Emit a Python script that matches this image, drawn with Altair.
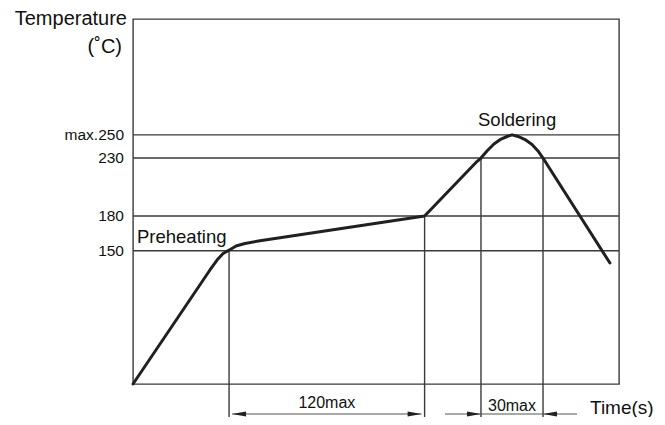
import altair as alt
import pandas as pd

# ---- data ----
curve_time = [0, 47.5, 51.9, 55.6, 59.3, 63.6, 69.1, 78.4, 180, 212.3, 214.8, 218.5,
              222.8, 227.2, 230.9, 234, 237.7, 242, 246.3, 250, 253.1, 256.2, 294.4]
curve_temp = [35, 133.4, 142, 147.6, 150.5, 154.1, 156.2, 158.7, 180, 227, 230, 236.1,
              242.1, 246.4, 248.6, 250, 248.6, 246, 241.7, 236.1, 230, 223.1, 139.4]
guide_temp = [150, 180, 230, 250]
guide_label = ["150", "180", "230", "max.250"]
marker_time = [59.3, 180, 214.8, 253.1]
marker_temp = [150, 180, 230, 230]
span_start = [59.3, 214.8]
span_end = [180, 253.1]
span_label = ["120max", "30max"]
zone_label = ["Preheating", "Soldering"]
zone_time = [0, 234]
zone_temp = [150, 250]
y_title = ["Temperature", "(˚C)"]
x_title = "Time(s)"

W, H = 486, 365
FONT = "Liberation Sans"
INK = "#231f20"
GRID = "#3a3a3a"

xs = alt.Scale(domain=[0, 300], nice=False, zero=False)
ys = alt.Scale(domain=[35, 350], nice=False, zero=False)

curve_df = pd.DataFrame({"t": curve_time, "T": curve_temp, "o": list(range(len(curve_time)))})
guide_df = pd.DataFrame({"T": guide_temp, "lab": guide_label})
marker_df = pd.DataFrame({"t": marker_time, "T": marker_temp})
span_df = pd.DataFrame({"t": span_start, "t2": span_end, "lab": span_label,
                        "mid": [(a + b) / 2 for a, b in zip(span_start, span_end)]})
outer_df = span_df.iloc[[0]]
inner_df = span_df.iloc[[1]]
zone_df = pd.DataFrame({"t": zone_time, "T": zone_temp, "lab": zone_label})

ARROW_Y = 395
LEFT_HEAD = "M0,0L2,-0.36L2,0.36Z"
RIGHT_HEAD = "M0,0L-2,-0.36L-2,0.36Z"

guides = alt.Chart(guide_df).mark_rule(color=GRID, strokeWidth=1.4).encode(
    y=alt.Y("T:Q", scale=ys, axis=None))

guide_text = alt.Chart(guide_df).mark_text(
    align="right", baseline="middle", font=FONT, fontSize=15.5, color="#111").encode(
    x=alt.value(-9), y=alt.Y("T:Q", scale=ys), text="lab:N")

markers = alt.Chart(marker_df).mark_rule(color=GRID, strokeWidth=1.4).encode(
    x=alt.X("t:Q", scale=xs, axis=None), y=alt.Y("T:Q", scale=ys), y2=alt.value(400))

curve = alt.Chart(curve_df).mark_line(color=INK, strokeWidth=3, strokeJoin="round",
                                      strokeCap="round").encode(
    x=alt.X("t:Q", scale=xs), y=alt.Y("T:Q", scale=ys), order="o:Q")

outer_line = alt.Chart(outer_df).mark_rule(color="#555", strokeWidth=1.2, xOffset=3, x2Offset=-3).encode(
    x=alt.X("t:Q", scale=xs), x2="t2:Q", y=alt.value(ARROW_Y))
inner_line = alt.Chart(inner_df).mark_rule(color="#555", strokeWidth=1.2, xOffset=-36, x2Offset=34).encode(
    x=alt.X("t:Q", scale=xs), x2="t2:Q", y=alt.value(ARROW_Y))


def head(df, field, path, off):
    return alt.Chart(df).mark_point(shape=path, size=196, filled=True, color=INK,
                                    opacity=1, strokeWidth=0, xOffset=off).encode(
        x=alt.X(field + ":Q", scale=xs), y=alt.value(ARROW_Y))


heads = [
    head(outer_df, "t", LEFT_HEAD, 3),
    head(outer_df, "t2", RIGHT_HEAD, -3),
    head(inner_df, "t", RIGHT_HEAD, 0),
    head(inner_df, "t2", LEFT_HEAD, 0),
]

outer_text = alt.Chart(outer_df).mark_text(font=FONT, fontSize=16, color="#111",
                                           align="center", baseline="alphabetic").encode(
    x=alt.X("mid:Q", scale=xs), y=alt.value(389), text="lab:N")
inner_text = alt.Chart(inner_df).mark_text(font=FONT, fontSize=16, color="#111",
                                           align="center", baseline="alphabetic").encode(
    x=alt.X("mid:Q", scale=xs), y=alt.value(392), text="lab:N")

pre_text = alt.Chart(zone_df.iloc[[0]]).mark_text(font=FONT, fontSize=18.5, color="#111",
                                                  align="left", baseline="alphabetic", dx=4, dy=-8).encode(
    x=alt.X("t:Q", scale=xs), y=alt.Y("T:Q", scale=ys), text="lab:N")
sol_text = alt.Chart(zone_df.iloc[[1]]).mark_text(font=FONT, fontSize=18.5, color="#111",
                                                  align="center", baseline="alphabetic", dx=5, dy=-9).encode(
    x=alt.X("t:Q", scale=xs), y=alt.Y("T:Q", scale=ys), text="lab:N")

title1 = alt.Chart(pd.DataFrame({"lab": [y_title[0]]})).mark_text(
    font=FONT, fontSize=20, color="#111", align="right", baseline="alphabetic").encode(
    x=alt.value(-6), y=alt.value(6), text="lab:N")
title2 = alt.Chart(pd.DataFrame({"lab": [y_title[1]]})).mark_text(
    font=FONT, fontSize=20, color="#111", align="right", baseline="alphabetic").encode(
    x=alt.value(-11), y=alt.value(34), text="lab:N")
title3 = alt.Chart(pd.DataFrame({"lab": [x_title]})).mark_text(
    font=FONT, fontSize=19, color="#111", align="left", baseline="alphabetic").encode(
    x=alt.value(457), y=alt.value(395), text="lab:N")

chart = alt.layer(
    guides, markers, curve, outer_line, inner_line, *heads,
    guide_text, outer_text, inner_text, pre_text, sol_text, title1, title2, title3
).properties(
    width=W, height=H,
    padding={"left": 125, "top": 11, "right": 38, "bottom": 33},
    autosize=alt.AutoSizeParams(type="none"),
    background="white",
).configure_view(stroke=GRID, strokeWidth=1.4)

chart.save("out.html", embed_options={"renderer": "svg", "actions": False})
